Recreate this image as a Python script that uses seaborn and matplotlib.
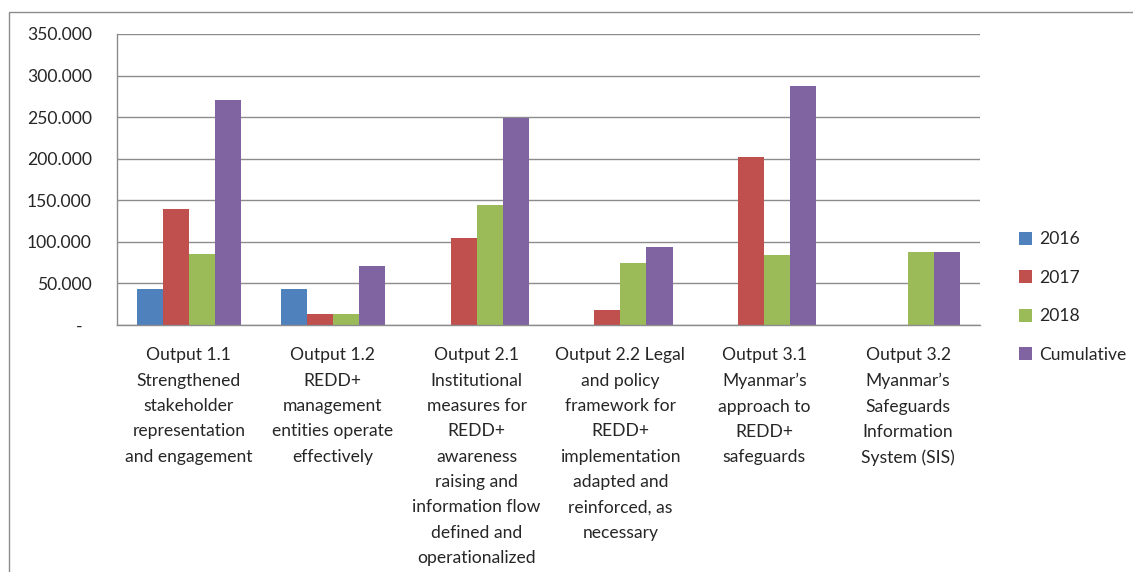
import numpy as np
import matplotlib
matplotlib.use("Agg")
import matplotlib.pyplot as plt
import matplotlib.ticker as mticker
from matplotlib.patches import Rectangle
import pandas as pd
import seaborn as sns

#%% Dati
outputs = [
    "Output 1.1\nStrengthened\nstakeholder\nrepresentation\nand engagement",
    "Output 1.2\nREDD+\nmanagement\nentities operate\neffectively",
    "Output 2.1\nInstitutional\nmeasures for\nREDD+\nawareness\nraising and\ninformation flow\ndefined and\noperationalized",
    "Output 2.2 Legal\nand policy\nframework for\nREDD+\nimplementation\nadapted and\nreinforced, as\nnecessary",
    "Output 3.1\nMyanmar\u2019s\napproach to\nREDD+\nsafeguards",
    "Output 3.2\nMyanmar\u2019s\nSafeguards\nInformation\nSystem (SIS)",
]
series = ["2016", "2017", "2018", "Cumulative"]
v2016 = [43000, 43000, 0, 0, 0, 0]
v2017 = [140000, 13000, 105000, 18500, 202000, 0]
v2018 = [85500, 13000, 144000, 75000, 84500, 88000]
vcum = [271000, 71000, 249000, 93500, 288000, 88000]
colori = ["#4F81BD", "#C0504D", "#9BBB59", "#8064A2"]

df = pd.DataFrame({
    "output": outputs * 4,
    "serie": np.repeat(series, len(outputs)),
    "valore": v2016 + v2017 + v2018 + vcum,
})

#%% Grafico
sns.set_style("white")
plt.rcParams["font.family"] = ["Lato", "DejaVu Sans"]
fs = 12.6

fig = plt.figure(figsize=(11.33, 5.72), dpi=100)
ax = fig.add_axes([117 / 1133, 1 - 325 / 572, (980 - 117) / 1133, (325 - 34) / 572])

sns.barplot(data=df, x="output", y="valore", hue="serie", palette=colori,
            width=0.725, linewidth=0, saturation=1, ax=ax)

ax.set_ylim(0, 350000)
ax.set_xlim(-0.5, 5.5)
ax.set_yticks(np.arange(0, 350001, 50000))
ax.yaxis.set_major_formatter(mticker.FuncFormatter(
    lambda v, p: "-  " if v == 0 else f"{int(v):,}".replace(",", ".")))
ax.grid(axis="y", color="#8c8c8c", linewidth=1)
ax.set_axisbelow(True)
for s in ["top", "right"]:
    ax.spines[s].set_visible(False)
for s in ["left", "bottom"]:
    ax.spines[s].set_color("#8c8c8c")
    ax.spines[s].set_linewidth(1)

ax.tick_params(axis="y", direction="out", length=5, color="#8c8c8c", labelsize=fs, pad=13)
ax.set_xticks(range(len(outputs)))
ax.set_xticklabels(outputs, fontsize=fs, va="top")
for t in ax.get_xticklabels():
    t.set_linespacing(1.72)
ax.tick_params(axis="x", length=0, pad=16)
ax.set_xticks(np.arange(-0.5, 6, 1), minor=True)
ax.tick_params(axis="x", which="minor", direction="out", length=5, color="#8c8c8c")
ax.set_xlabel("")
ax.set_ylabel("")

handles, labels = ax.get_legend_handles_labels()
ax.legend(handles, labels, loc="center left", bbox_to_anchor=(1003 / 1133, 1 - 297 / 572),
          bbox_transform=fig.transFigure, frameon=False, fontsize=fs,
          handlelength=0.75, handleheight=0.75, handletextpad=0.4, labelspacing=1.28)

# cornice esterna
fig.patches.append(Rectangle((9 / 1133, -0.1), 1.2, 1.1 - 12 / 572, transform=fig.transFigure,
                             fill=False, edgecolor="#8c8c8c", linewidth=1))

fig.savefig("out.png", dpi=100)
